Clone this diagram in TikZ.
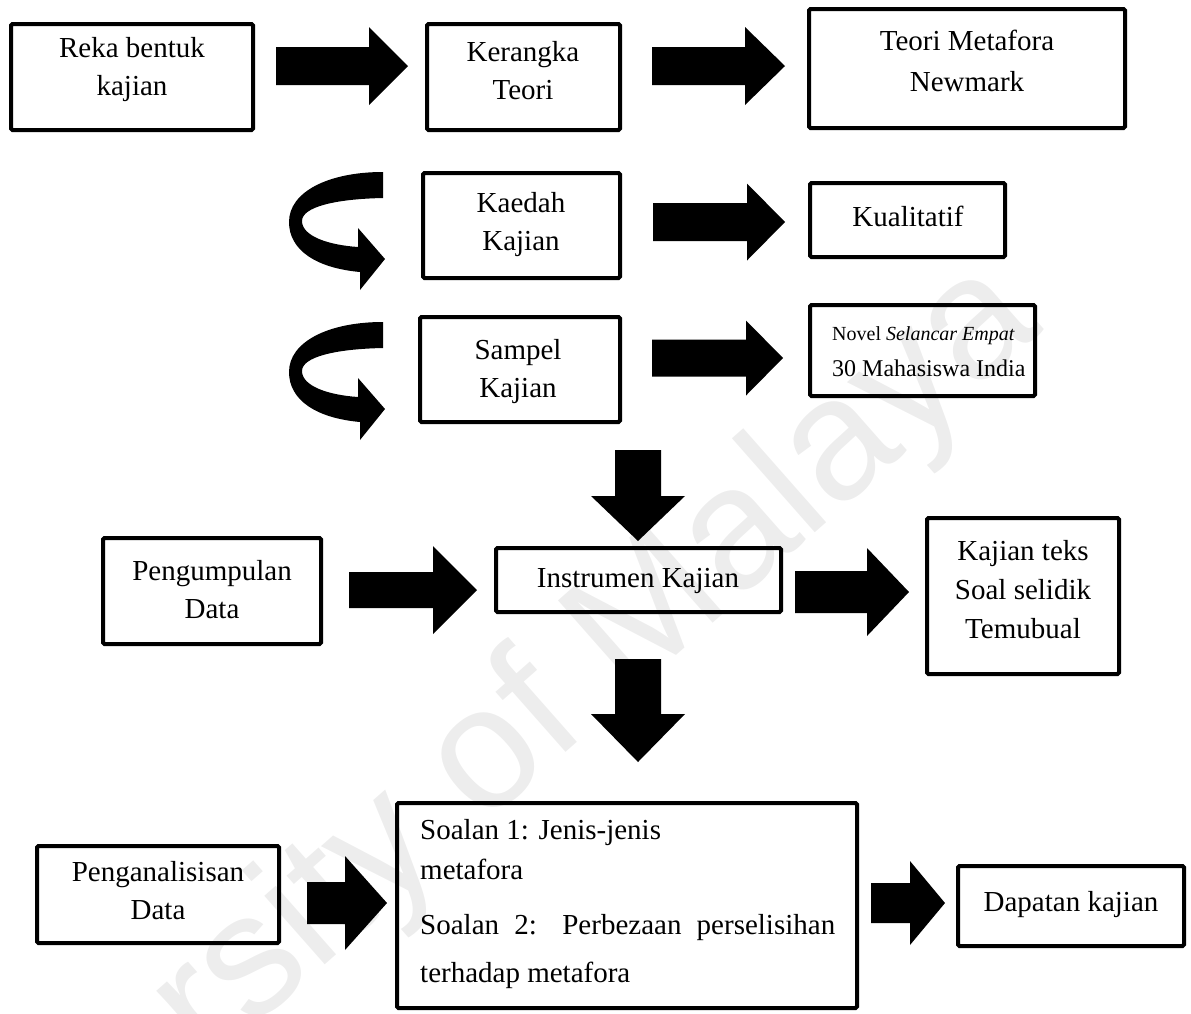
\documentclass[tikz,border=0pt]{standalone}
\usepackage{fontspec}
\setmainfont{Liberation Serif}
\newfontfamily\wmfont{Liberation Sans}
\newcommand\bx[5]{\node[box, minimum width={#4-#2}, minimum height={#5-#3}] (#1) at ({(#2+#4)/2},{(#3+#5)/2}) {};}
\newcommand\rarr[6]{\fill[blk] (#1,#4-#5) -- (#2,#4-#5) -- (#2,#4-#6) -- (#3,#4) -- (#2,#4+#6) -- (#2,#4+#5) -- (#1,#4+#5) -- cycle;}
\newcommand\darr[6]{\fill[blk] (#1-#2,#4) -- (#1+#2,#4) -- (#1+#2,#5) -- (#1+#3,#5) -- (#1,#6) -- (#1-#3,#5) -- (#1-#2,#5) -- cycle;}
\newcommand\uturn[1]{\begin{scope}[shift={(0,#1)}]
\fill[blk] (383,172) -- (383,198) .. controls (335,199) and (302,207) .. (302,221) .. controls (302,236) and (328,245) .. (358,247) -- (358,228) -- (385,259) -- (360,290) -- (360,272) .. controls (316,268) and (289,250) .. (289,222) .. controls (289,192) and (328,172) .. (383,172) -- cycle;
\end{scope}}
\begin{document}
\begin{tikzpicture}[x=1pt,y=-1pt,
  box/.style={draw=black, line width=4pt, rounded corners=1.5pt, inner sep=0pt},
  txt/.style={font=\fontsize{29}{38}\selectfont, align=center, inner sep=0pt},
  blk/.style={fill=black}]
\useasboundingbox (0,0) rectangle (1191,1013);
\begin{scope}
\clip (0,0) rectangle (1191,1013);
\node[rotate=41.4, anchor=base east, inner sep=0pt, text=black!7, font=\wmfont\fontsize{173}{173}\selectfont] (wm) at (1045,330) {University of Malaya};
\end{scope}
% row 1
\bx{reka}{11}{24}{253}{130}
\node[txt] (rekaT) at (132,70) {Reka bentuk\\kajian};
\rarr{276}{369}{408}{66}{19}{39}
\bx{ker}{427}{24}{620}{130}
\node[txt] (kerT) at (523,71) {Kerangka\\Teori};
\rarr{652}{745}{785}{66}{19}{39}
\bx{teori}{809}{9}{1125}{128}
\node[txt, font=\fontsize{29}{41}\selectfont] (teoriT) at (967,61) {Teori Metafora\\Newmark};
% row 2
\uturn{0}
\bx{kae}{423}{173}{620}{278}
\node[txt] (kaeT) at (521,225) {Kaedah\\Kajian};
\rarr{653}{747}{785}{222}{19}{38.5}
\bx{kual}{810}{183}{1005}{257}
\node[txt] (kualT) at (908,216) {Kualitatif};
% row 3
\uturn{150}
\bx{samp}{420}{317}{620}{422}
\node[txt] (sampT) at (518,372) {Sampel\\Kajian};
\rarr{652}{746}{783}{358}{18.5}{37.5}
\bx{nov}{810}{305}{1035}{396}
\node[anchor=base west, inner sep=0pt, font=\fontsize{20}{24}\selectfont] (novT1) at (832,340) {Novel \textit{Selancar Empat}};
\node[anchor=base west, inner sep=0pt, font=\fontsize{24}{28}\selectfont] (novT2) at (832,376) {30 Mahasiswa India};
% instrument row
\darr{638}{23}{47}{450}{496}{541}
\bx{peng}{103}{538}{321}{644}
\node[txt] (pengT) at (212,590) {Pengumpulan\\Data};
\rarr{349}{433}{477}{590}{18}{44}
\bx{inst}{496}{548}{781}{612}
\node[txt] (instT) at (638,581) {Instrumen Kajian};
\rarr{795}{867}{909}{592}{21}{44}
\bx{kt}{927}{518}{1119}{674}
\node[txt, font=\fontsize{29}{39}\selectfont] (ktT) at (1023,590) {Kajian teks\\Soal selidik\\Temubual};
\darr{638}{23}{47}{659}{714}{762}
% bottom row
\bx{anal}{37}{846}{279}{943}
\node[txt] (analT) at (158,891) {Penganalisisan\\Data};
\rarr{307}{345}{387}{903}{21}{47}
\bx{soal}{397}{803}{857}{1008}
\node[inner sep=0pt, anchor=north west, font=\fontsize{29}{40}\selectfont] (soalT) at (420,819) {\parbox{415pt}{\setlength\parindent{0pt}\tolerance=9999\hyphenpenalty=10000 Soalan 1: Jenis-jenis\\metafora\par\vspace{7pt}\setlength\baselineskip{48pt}Soalan 2: Perbezaan perselisihan terhadap metafora}};
\rarr{871}{910}{945}{903}{20}{42}
\bx{dap}{958}{866}{1184}{946}
\node[txt] (dapT) at (1071,905) {Dapatan kajian};
\end{tikzpicture}
\end{document}
